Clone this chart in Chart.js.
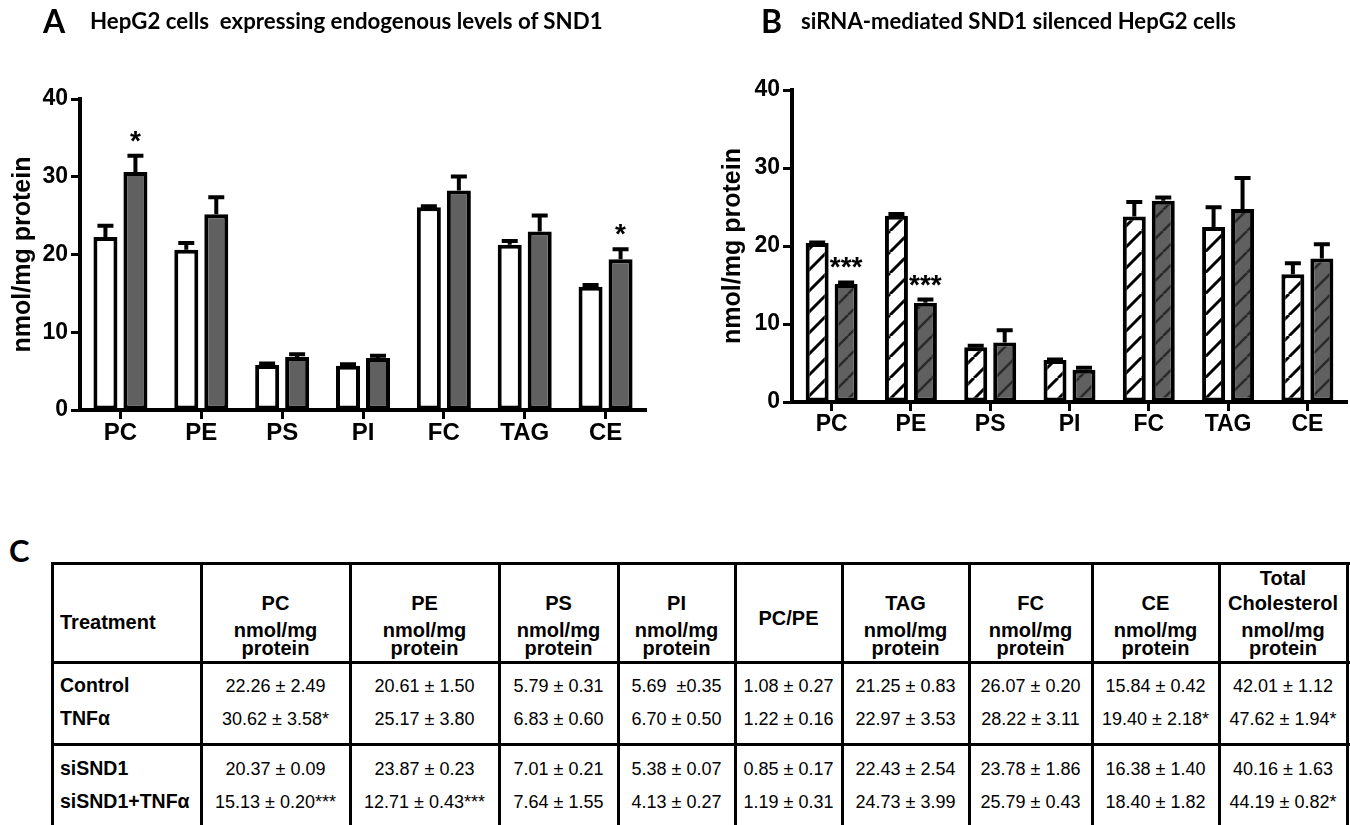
<!DOCTYPE html>
<html><head><meta charset="utf-8">
<script src="https://cdn.jsdelivr.net/npm/chart.js@4.4.0/dist/chart.umd.min.js"></script>
<style>
html,body{margin:0;padding:0;background:#fff;width:1350px;height:825px;overflow:hidden;position:relative;font-family:"Liberation Sans",Arial,sans-serif;}
#cA{position:absolute;left:0;top:0;}
#cB{position:absolute;left:680px;top:0;}
.t{position:absolute;line-height:0;white-space:pre;color:#000;}
.ln{position:absolute;background:#000;}
</style></head><body>
<canvas id="cA" width="660" height="470"></canvas>
<canvas id="cB" width="670" height="470"></canvas>
<div id="ov"></div>
<script>
// ---------- data ----------
const categories = ['PC','PE','PS','PI','FC','TAG','CE'];
const yTicks = [0,10,20,30,40];
const axisTitle = 'nmol/mg protein';

// Panel A: HepG2 cells expressing endogenous levels of SND1
const controlA    = [22.26, 20.61, 5.79, 5.69, 26.07, 21.25, 15.84];
const controlAErr = [1.44, 0.87, 0.18, 0.20, 0.12, 0.48, 0.24];
const tnfA        = [30.62, 25.17, 6.83, 6.70, 28.22, 22.97, 19.40];
const tnfAErr     = [2.07, 2.19, 0.35, 0.29, 1.80, 2.04, 1.26];
const tnfAStars   = ['*','','','','','','*'];

// Panel B: siRNA-mediated SND1 silenced HepG2 cells
const siSND1       = [20.37, 23.87, 7.01, 5.38, 23.78, 22.43, 16.38];
const siSND1Err    = [0.09, 0.23, 0.21, 0.07, 1.86, 2.54, 1.40];
const siSND1Tnf    = [15.13, 12.71, 7.64, 4.13, 25.79, 24.73, 18.40];
const siSND1TnfErr = [0.20, 0.43, 1.55, 0.27, 0.43, 3.99, 1.82];
const siSND1TnfStars = ['***','***','','','','',''];

// Panel C table
const tableColumns = ['Treatment','PC','PE','PS','PI','PC/PE','TAG','FC','CE','Total Cholesterol'];
const rowLabels = ['Control','TNFα','siSND1','siSND1+TNFα'];
const rowControl = ['22.26 ± 2.49','20.61 ± 1.50','5.79 ± 0.31','5.69  ±0.35','1.08 ± 0.27','21.25 ± 0.83','26.07 ± 0.20','15.84 ± 0.42','42.01 ± 1.12'];
const rowTnf     = ['30.62 ± 3.58*','25.17 ± 3.80','6.83 ± 0.60','6.70 ± 0.50','1.22 ± 0.16','22.97 ± 3.53','28.22 ± 3.11','19.40 ± 2.18*','47.62 ± 1.94*'];
const rowSi      = ['20.37 ± 0.09','23.87 ± 0.23','7.01 ± 0.21','5.38 ± 0.07','0.85 ± 0.17','22.43 ± 2.54','23.78 ± 1.86','16.38 ± 1.40','40.16 ± 1.63'];
const rowSiTnf   = ['15.13 ± 0.20***','12.71 ± 0.43***','7.64 ± 1.55','4.13 ± 0.27','1.19 ± 0.31','24.73 ± 3.99','25.79 ± 0.43','18.40 ± 1.82','44.19 ± 0.82*'];

// ---------- helpers ----------
const FONT = '"Liberation Sans", Arial, sans-serif';
const TFONT = 'Lato, "Open Sans", sans-serif';

function hatch(bg, fg, lw, s) {
  const c = document.createElement('canvas'); c.width = s; c.height = s;
  const g = c.getContext('2d');
  g.fillStyle = bg; g.fillRect(0, 0, s, s);
  g.strokeStyle = fg; g.lineWidth = lw;
  g.beginPath();
  for (let k = -1; k <= 1; k++) { g.moveTo(k * s, s); g.lineTo(k * s + s, 0); }
  g.stroke();
  return g.createPattern(c, 'repeat');
}

const errPlugin = {
  id: 'errbars',
  afterDatasetsDraw(chart) {
    const ctx = chart.ctx, y = chart.scales.y;
    chart.data.datasets.forEach((ds, i) => {
      const meta = chart.getDatasetMeta(i);
      meta.data.forEach((bar, j) => {
        const yt = y.getPixelForValue(ds.data[j] + ds.errors[j]);
        ctx.save();
        ctx.strokeStyle = '#000'; ctx.lineWidth = 4; ctx.lineCap = 'butt';
        ctx.beginPath();
        ctx.moveTo(bar.x, bar.y); ctx.lineTo(bar.x, yt);
        ctx.moveTo(bar.x - 8, yt); ctx.lineTo(bar.x + 8, yt);
        ctx.stroke();
        if (ds.stars && ds.stars[j]) {
          ctx.fillStyle = '#000';
          ctx.font = 'bold 28px ' + FONT;
          ctx.textAlign = 'center'; ctx.textBaseline = 'alphabetic';
          ctx.fillText(ds.stars[j], bar.x, yt - 6);
        }
        ctx.restore();
      });
    });
  }
};

function makeChart(id, datasets, cfg) {
  return new Chart(document.getElementById(id), {
    type: 'bar',
    data: { labels: categories, datasets: datasets },
    options: {
      responsive: false, animation: false, devicePixelRatio: 1,
      layout: { padding: { left: 0, right: cfg.padRight, top: cfg.padTop, bottom: 0 } },
      plugins: { legend: { display: false }, tooltip: { enabled: false } },
      datasets: { bar: { categoryPercentage: cfg.catPct, barPercentage: cfg.barPct } },
      scales: {
        x: {
          grid: { display: true, drawOnChartArea: false, drawTicks: true, offset: false, tickLength: 9, tickWidth: 3, tickColor: '#000' },
          border: { display: true, color: '#000', width: 4 },
          ticks: { color: '#000', font: { family: FONT, weight: 'bold', size: cfg.xFont }, padding: 0, maxRotation: 0, autoSkip: false },
          afterFit(s) { s.height = cfg.xHeight; }
        },
        y: {
          min: 0, max: 40,
          grid: { display: true, drawOnChartArea: false, drawTicks: true, tickLength: 9, tickWidth: 3, tickColor: '#000' },
          border: { display: true, color: '#000', width: 4 },
          ticks: { color: '#000', font: { family: FONT, weight: 'bold', size: 23 }, padding: 3, stepSize: 10 },
          afterBuildTicks(s) { s.ticks = yTicks.map(v => ({ value: v })); },
          afterFit(s) { s.width = cfg.yWidth; },
          title: { display: true, text: axisTitle, color: '#000', font: { family: FONT, weight: 'bold', size: 25 }, padding: { top: cfg.titlePad, bottom: 0 } }
        }
      }
    },
    plugins: [errPlugin]
  });
}

makeChart('cA', [
  { data: controlA, errors: controlAErr, backgroundColor: '#ffffff', borderColor: '#000', borderWidth: 4, borderSkipped: false },
  { data: tnfA, errors: tnfAErr, stars: tnfAStars, backgroundColor: '#606060', borderColor: '#000', borderWidth: 4, borderSkipped: false }
], { padTop: 99, padRight: 14, xHeight: 60, yWidth: 80, titlePad: 8, catPct: 0.742, barPct: 0.8, xFont: 24 });

makeChart('cB', [
  { data: siSND1, errors: siSND1Err, backgroundColor: hatch('#ffffff', '#000000', 3, 21), borderColor: '#000', borderWidth: 4, borderSkipped: false },
  { data: siSND1Tnf, errors: siSND1TnfErr, stars: siSND1TnfStars, backgroundColor: hatch('#606060', '#2a2a2a', 2.5, 21), borderColor: '#000', borderWidth: 4, borderSkipped: false }
], { padTop: 90, padRight: 3, xHeight: 68, yWidth: 112, titlePad: 38, catPct: 0.731, barPct: 0.793, xFont: 23 });

// ---------- HTML text & table ----------
const ov = document.getElementById('ov');
function place(text, x, baseline, size, weight, align, family, k) {
  const d = document.createElement('div');
  d.className = 't';
  d.textContent = text;
  d.style.fontFamily = family || FONT;
  d.style.fontWeight = weight;
  d.style.fontSize = size + 'px';
  d.style.left = x + 'px';
  d.style.top = (baseline - (k || 0.3465) * size) + 'px';
  if (align === 'center') d.style.transform = 'translateX(-50%)';
  ov.appendChild(d);
  return d;
}
function fitTitle(text, x, baseline, target) {
  const d = place(text, x, baseline, 20, 700, 'left', TFONT, 0.387);
  const w = d.getBoundingClientRect().width;
  const fs = 20 * target / w;
  d.style.fontSize = fs + 'px';
  d.style.top = (baseline - 0.387 * fs) + 'px';
}
function line(x, y, w, h) {
  const d = document.createElement('div'); d.className = 'ln';
  d.style.left = x + 'px'; d.style.top = y + 'px'; d.style.width = w + 'px'; d.style.height = h + 'px';
  ov.appendChild(d);
}

// panel letters and titles
place('A', 43, 33, 32, 700, 'left', TFONT, 0.387);
fitTitle('HepG2 cells  expressing endogenous levels of SND1', 90, 30, 513);
place('B', 761, 33, 32, 700, 'left', TFONT, 0.387);
fitTitle('siRNA-mediated SND1 silenced HepG2 cells', 801, 30, 435);
place('C', 9, 562, 31, 700, 'left', TFONT, 0.387);

// table grid
const colX = [52, 201, 350, 499, 618, 735, 842, 969, 1092, 1219, 1347];
colX.forEach(x => line(x - 1.5, 561.5, 3, 280));
line(50.5, 561.5, 1299, 3);
line(50.5, 660.5, 1299, 3);
line(50.5, 742.5, 1299, 3);

// header
place(tableColumns[0], 60, 629, 20, 700, 'left');
for (let i = 1; i < tableColumns.length; i++) {
  const cx = (colX[i] + colX[i + 1]) / 2;
  const name = tableColumns[i];
  if (name === 'PC/PE') {
    place(name, cx, 625, 20, 700, 'center');
  } else if (name === 'Total Cholesterol') {
    place('Total', cx, 585, 20, 700, 'center');
    place('Cholesterol', cx, 610, 20, 700, 'center');
    place('nmol/mg', cx, 637, 20, 700, 'center');
    place('protein', cx, 655, 20, 700, 'center');
  } else {
    place(name, cx, 610, 20, 700, 'center');
    place('nmol/mg', cx, 637, 20, 700, 'center');
    place('protein', cx, 655, 20, 700, 'center');
  }
}
// body
const rows = [rowControl, rowTnf, rowSi, rowSiTnf];
const rowBase = [692, 725, 775, 808];
rows.forEach((r, ri) => {
  place(rowLabels[ri], 60, rowBase[ri], 19.5, 700, 'left');
  r.forEach((v, ci) => {
    const cx = (colX[ci + 1] + colX[ci + 2]) / 2;
    place(v, cx, rowBase[ri], 18, 400, 'center');
  });
});
</script>
</body></html>
